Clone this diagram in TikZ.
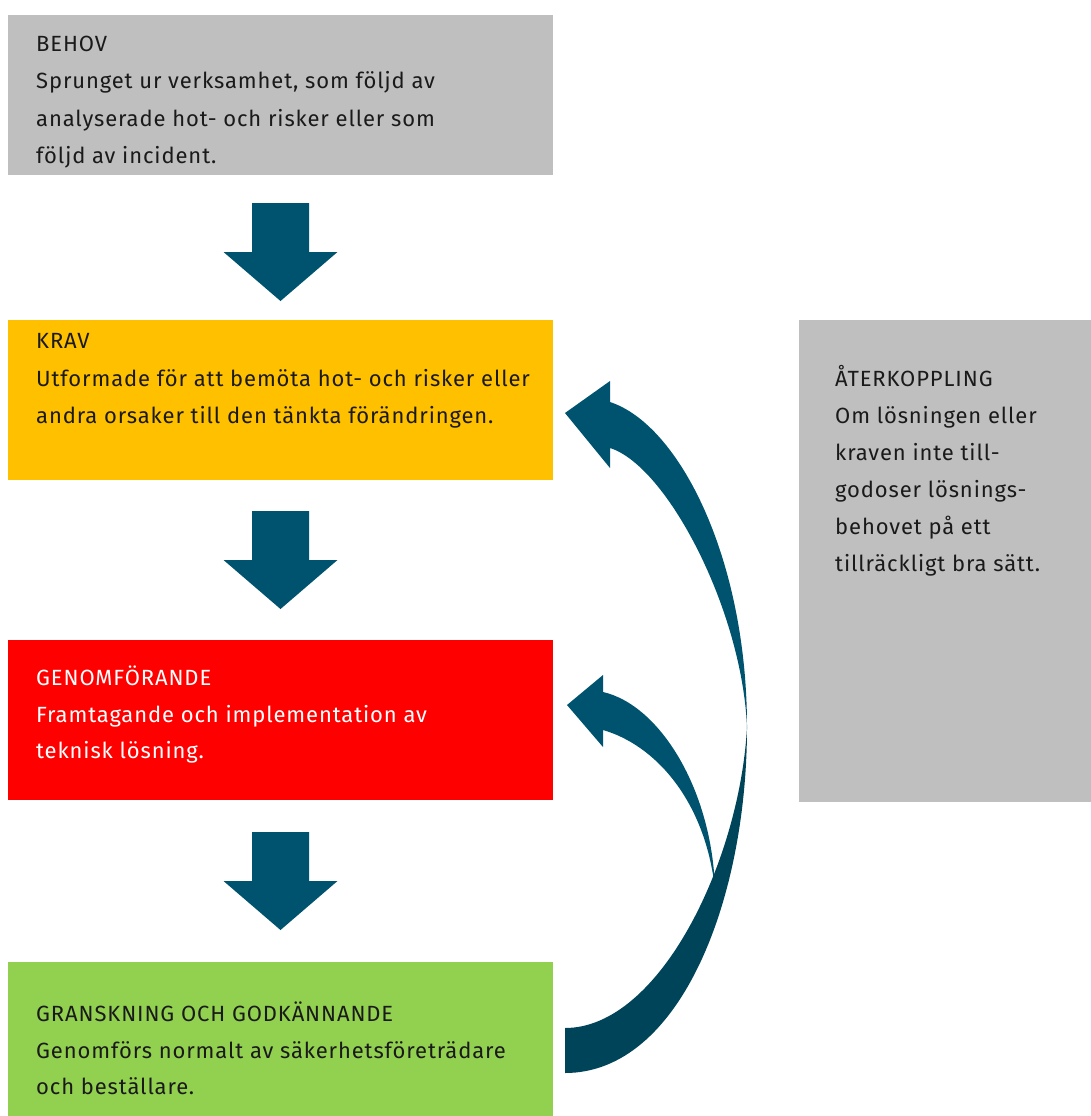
\documentclass[tikz,border=0pt]{standalone}
\usepackage{fontspec}
\setmainfont{Fira Sans}[LetterSpace=4]
\usetikzlibrary{calc}
\definecolor{boxgray}{HTML}{BFBFBF}
\definecolor{kravyellow}{HTML}{FFC000}
\definecolor{genred}{HTML}{FF0000}
\definecolor{granskgreen}{HTML}{92D050}
\definecolor{arrowcol}{HTML}{00536E}
\definecolor{arrowdark}{HTML}{00445A}
\definecolor{txtcol}{HTML}{1A1A1A}
\tikzset{
  box/.style={draw=none, anchor=north west, inner sep=0pt, outer sep=0pt, minimum width=545bp, minimum height=160bp},
  txt/.style={anchor=base west, inner sep=0pt, font=\fontsize{22bp}{24bp}\selectfont, text=txtcol},
  wtxt/.style={txt, text=white},
  downarr/.pic={\fill[arrowcol] (-28.5,0) -- (28.5,0) -- (28.5,49) -- (57,49) -- (0,98) -- (-57,49) -- (-28.5,49) -- cycle;}
}
\begin{document}
\begin{tikzpicture}[x=1bp,y=-1bp]
\useasboundingbox (0,0) rectangle (1091,1116);
% boxes
\node[box, fill=boxgray] (behov) at (8,15) {};
\node[box, fill=kravyellow] (krav) at (8,320) {};
\node[box, fill=genred] (gen) at (8,640) {};
\node[box, fill=granskgreen, minimum height=154bp] (gransk) at (8,962) {};
\node[box, fill=boxgray, minimum width=292bp, minimum height=482bp] (ater) at (799,320) {};
% texts
\node[txt] (behov-t) at (36,51) {BEHOV};
\node[txt] (behov-1) at (36,88) {Sprunget ur verksamhet, som följd av};
\node[txt] (behov-2) at (36,126) {analyserade hot- och risker eller som};
\node[txt] (behov-3) at (36,163) {följd av incident.};
\node[txt] (krav-t) at (36,348) {KRAV};
\node[txt] (krav-1) at (36,386) {Utformade för att bemöta hot- och risker eller};
\node[txt] (krav-2) at (36,423) {andra orsaker till den tänkta förändringen.};
\node[wtxt] (gen-t) at (36,685) {GENOMFÖRANDE};
\node[wtxt] (gen-1) at (36,722) {Framtagande och implementation av};
\node[wtxt] (gen-2) at (36,758) {teknisk lösning.};
\node[txt] (gransk-t) at (36,1021) {GRANSKNING OCH GODKÄNNANDE};
\node[txt] (gransk-1) at (36,1058) {Genomförs normalt av säkerhetsföreträdare};
\node[txt] (gransk-2) at (36,1094) {och beställare.};
\node[txt] (ater-t) at (835,386) {ÅTERKOPPLING};
\node[txt] (ater-1) at (835,423) {Om lösningen eller};
\node[txt] (ater-2) at (835,460) {kraven inte till-};
\node[txt] (ater-3) at (835,497) {godoser lösnings-};
\node[txt] (ater-4) at (835,534) {behovet på ett};
\node[txt] (ater-5) at (835,571) {tillräckligt bra sätt.};
% straight block arrows
\pic at ($(behov.south)+(0,28)$) {downarr};
\pic at ($(krav.south)+(0,31)$) {downarr};
\pic at ($(gen.south)+(0,32)$) {downarr};
% small curved arrow (to GENOMFÖRANDE)
\fill[arrowcol] (567,705) -- (603,675) -- (603,692)
  .. controls (660,705) and (712,790) .. (715,889)
  .. controls (705,800) and (655,745) .. (603,730)
  -- (603,747) -- cycle;
% big curved arrow, upper part (to KRAV)
\fill[arrowcol] (565,413) -- (610,381) -- (610,402)
  .. controls (680,425) and (747,560) .. (747,727)
  .. controls (742,610) and (667,466) .. (610,448)
  -- (610,468) -- cycle;
% big curved arrow, lower part (from GRANSKNING)
\fill[arrowdark] (747,727)
  .. controls (740,860) and (660,1028) .. (565,1028)
  -- (565,1073)
  .. controls (680,1073) and (747,900) .. (747,727)
  -- cycle;
\end{tikzpicture}
\end{document}
